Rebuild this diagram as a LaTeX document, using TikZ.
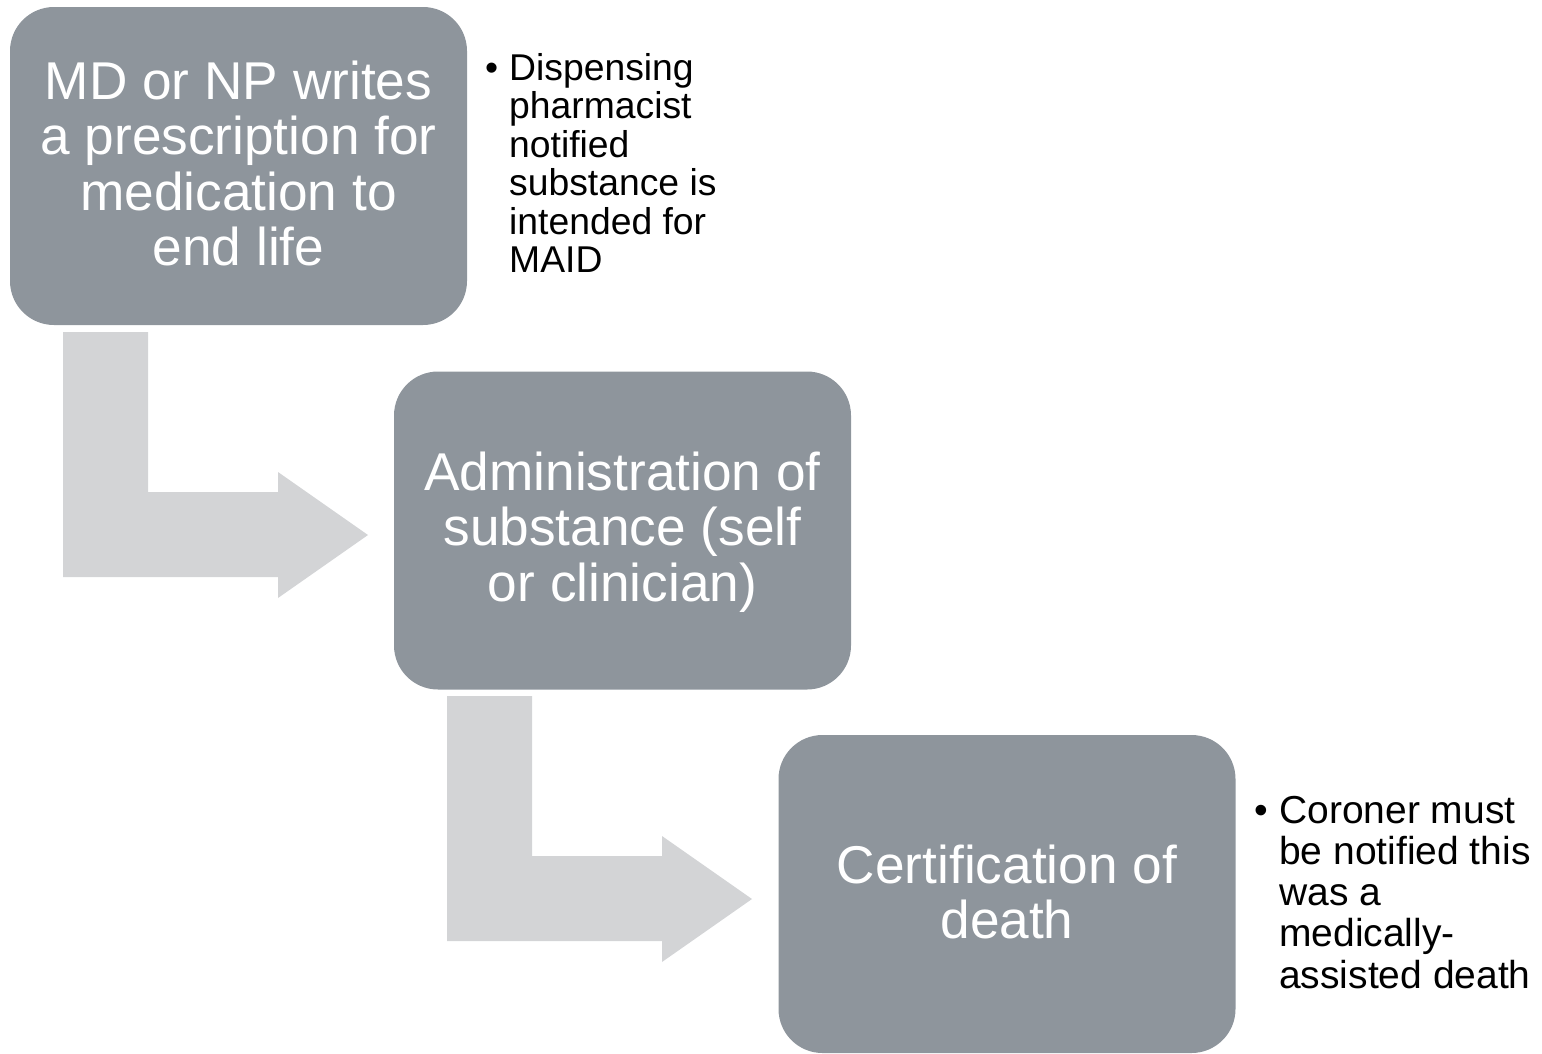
\documentclass[tikz,border=0pt]{standalone}
\usepackage{fontspec}
\setmainfont{Liberation Sans}
\definecolor{boxgray}{RGB}{142,149,156}
\definecolor{arrowgray}{RGB}{211,212,214}
\tikzset{
  x=1pt, y=-1pt,
  stepbox/.style={fill=boxgray, draw=none, rounded corners=44pt,
    minimum width=457pt, minimum height=318pt, inner sep=0pt},
  boxtext/.style={anchor=base, inner sep=0pt, text=white,
    font=\fontsize{53.2}{55.5}\selectfont},
  notetext/.style={anchor=base west, inner sep=0pt, text=black},
  bentarrow/.pic={
    \fill[arrowgray] (0,0) -- (85,0) -- (85,160) -- (215,160) -- (215,140)
      -- (305,203) -- (215,266) -- (215,245) -- (0,245) -- cycle;
  }
}
\begin{document}
\begin{tikzpicture}
\useasboundingbox (0,0) rectangle (1542,1053);
% boxes
\node[stepbox] (b1) at (238.5,166) {};
\node[stepbox] (b2) at (622.5,530.5) {};
\node[stepbox] (b3) at (1007,894) {};
% bent arrows
\pic (a1) at (63,332) {bentarrow};
\pic (a2) at (447,696) {bentarrow};
% box texts
\node[boxtext] (t1) at (238.5,99) {\begin{tabular}[t]{@{}c@{}}MD or NP writes\\a prescription for\\medication to\\end life\end{tabular}};
\node[boxtext] (t2) at (622.5,490) {\begin{tabular}[t]{@{}c@{}}Administration of\\substance (self\\or clinician)\end{tabular}};
\node[boxtext] (t3) at (1007,883) {\begin{tabular}[t]{@{}c@{}}Certification of\\death\end{tabular}};
% notes
\node[notetext, font=\fontsize{37.3}{38.5}\selectfont] (n1) at (485,80)
  {\begin{tabular}[t]{@{}l@{}l@{}}\makebox[24pt][l]{\textbullet}&Dispensing\\&pharmacist\\&notified\\&substance is\\&intended for\\&MAID\end{tabular}};
\node[notetext, font=\fontsize{39}{41.3}\selectfont] (n2) at (1254,823)
  {\begin{tabular}[t]{@{}l@{}l@{}}\makebox[25pt][l]{\textbullet}&Coroner must\\&be notified this\\&was a\\&medically-\\&assisted death\end{tabular}};
\end{tikzpicture}
\end{document}
